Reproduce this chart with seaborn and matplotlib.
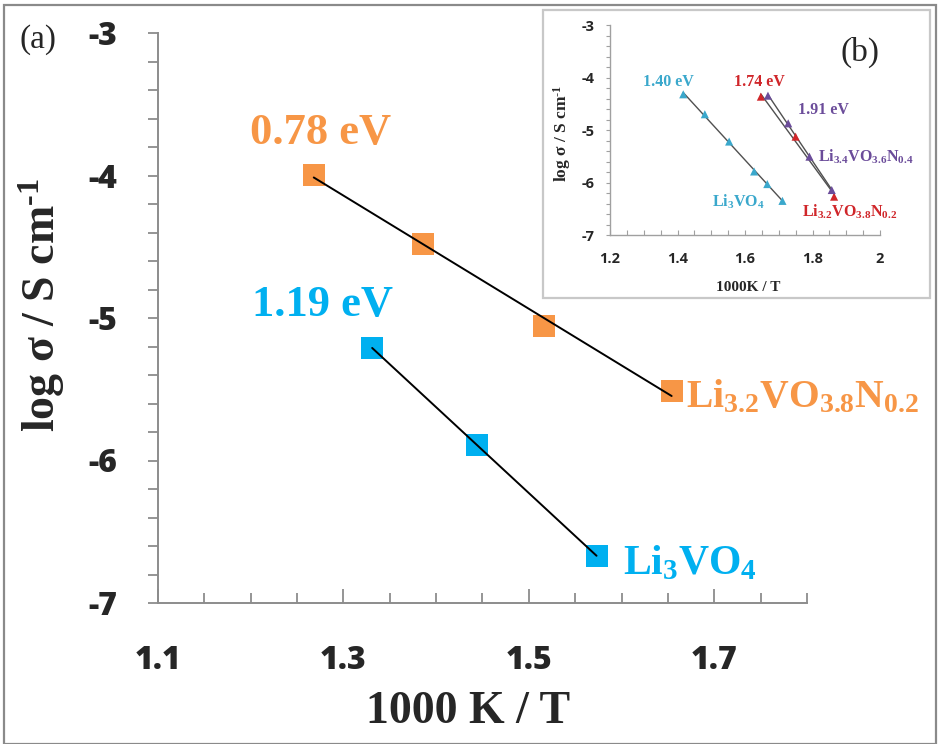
import matplotlib
matplotlib.use("Agg")
import matplotlib.pyplot as plt
import seaborn as sns
from matplotlib.ticker import MultipleLocator, FixedLocator
from matplotlib.patches import Rectangle

# ---------------- data (main panel a) ----------------
a_n02_x = [1.268, 1.386, 1.516, 1.654]
a_n02_y = [-3.994, -4.483, -5.054, -5.512]
a_lvo_x = [1.331, 1.444, 1.573]
a_lvo_y = [-5.212, -5.888, -6.670]
a_labels = ["0.78 eV", "1.19 eV"]
a_names = [r"Li$_{3.2}$VO$_{3.8}$N$_{0.2}$", r"Li$_{3}$VO$_{4}$"]
a_xticks = [1.1, 1.3, 1.5, 1.7]
a_yticks = [-7, -6, -5, -4, -3]

# ---------------- data (inset b) ----------------
b_lvo_x = [1.417, 1.481, 1.553, 1.627, 1.666, 1.711]
b_lvo_y = [-4.32, -4.70, -5.22, -5.79, -6.03, -6.35]
b_n02_x = [1.647, 1.750, 1.864]
b_n02_y = [-4.365, -5.127, -6.27]
b_n04_x = [1.668, 1.728, 1.791, 1.857]
b_n04_y = [-4.346, -4.873, -5.508, -6.143]
b_labels = ["1.40 eV", "1.74 eV", "1.91 eV"]
b_names = [r"Li$_{3}$VO$_{4}$", r"Li$_{3.2}$VO$_{3.8}$N$_{0.2}$", r"Li$_{3.4}$VO$_{3.6}$N$_{0.4}$"]
b_xticks = [1.2, 1.4, 1.6, 1.8, 2.0]
b_xticklabels = ["1.2", "1.4", "1.6", "1.8", "2"]
b_yticks = [-7, -6, -5, -4, -3]

ORANGE = "#F79646"
BLUE = "#00B0F0"
CYAN = "#3AA8CC"
RED = "#D0262A"
PURPLE = "#6B4C9A"
SPINE = "#8C8C8C"
SERIF = ["Liberation Serif", "DejaVu Serif"]
SANS = ["Open Sans", "DejaVu Sans"]
YLABEL = r"log σ / S cm$^{\text{-}1}$"

sns.set_theme(style="white")
plt.rcParams.update({
    "font.family": SANS,
    "font.weight": "bold",
    "mathtext.fontset": "custom",
    "mathtext.rm": "Liberation Serif:bold",
    "mathtext.it": "Liberation Serif:bold",
    "mathtext.bf": "Liberation Serif:bold",
    "axes.unicode_minus": False,
})

fig = plt.figure(figsize=(9.4, 7.44), dpi=100)
fig.patch.set_facecolor("white")
# outer frame
fig.add_artist(Rectangle((4 / 940, 0.0), 932 / 940, 1 - 5 / 744, transform=fig.transFigure,
                         fill=False, edgecolor="#8A8A8A", lw=1.6))

# ================= main axes =================
ax = fig.add_axes([158 / 940, 1 - 603 / 744, 649 / 940, 570 / 744])
ax.set_facecolor("white")
sns.scatterplot(x=a_n02_x, y=a_n02_y, ax=ax, marker="s", s=250, color=ORANGE,
                edgecolor="none", linewidth=0, zorder=3)
sns.scatterplot(x=a_lvo_x, y=a_lvo_y, ax=ax, marker="s", s=250, color=BLUE,
                edgecolor="none", linewidth=0, zorder=3)
sns.regplot(x=a_n02_x, y=a_n02_y, ax=ax, scatter=False, ci=None, truncate=True,
            color="black", line_kws={"lw": 1.4, "zorder": 5})
sns.regplot(x=a_lvo_x, y=a_lvo_y, ax=ax, scatter=False, ci=None, truncate=True,
            color="black", line_kws={"lw": 1.4, "zorder": 5})

ax.set_xlim(1.1, 1.8)
ax.set_ylim(-7, -3)
for s in ["top", "right"]:
    ax.spines[s].set_visible(False)
for s in ["left", "bottom"]:
    ax.spines[s].set_color(SPINE)
    ax.spines[s].set_linewidth(1.4)

ax.xaxis.set_major_locator(FixedLocator(a_xticks))
ax.xaxis.set_minor_locator(MultipleLocator(0.05))
ax.yaxis.set_major_locator(FixedLocator(a_yticks))
ax.yaxis.set_minor_locator(MultipleLocator(0.2))
ax.set_xticklabels([f"{v:.1f}" for v in a_xticks])
ax.set_yticklabels([str(v) for v in a_yticks])
ax.tick_params(axis="x", which="major", direction="in", length=10, width=1.3, color=SPINE,
               pad=30, labelsize=23, bottom=True)
ax.tick_params(axis="x", which="minor", direction="in", length=7, width=1.3, color=SPINE, bottom=True)
ax.tick_params(axis="y", which="both", direction="out", length=7.5, width=1.3, color=SPINE, left=True)
ax.tick_params(axis="y", which="major", pad=22, labelsize=23)
for t in ax.get_xticklabels() + ax.get_yticklabels():
    t.set_fontweight("heavy")
    t.set_family(SANS)

ax.set_xlabel("1000 K / T", fontsize=33, fontweight="bold", family=SERIF)
ax.xaxis.set_label_coords((468 - 158) / 649, (603 - 712) / 570)
ax.xaxis.label.set_va("center")
ax.set_ylabel(YLABEL, fontsize=33, fontweight="bold", family=SERIF)
ax.yaxis.set_label_coords((42 - 158) / 649, (603 - 305) / 570)
ax.yaxis.label.set_va("center")

ax.text(1.275, -3.70, a_labels[0], color=ORANGE, fontsize=32, fontweight="bold",
        family=SERIF, ha="center", va="center")
ax.text(1.277, -4.91, a_labels[1], color=BLUE, fontsize=32, fontweight="bold",
        family=SERIF, ha="center", va="center")
ax.text(1.670, -5.63, a_names[0], color=ORANGE, fontsize=28.5, fontweight="bold",
        family=SERIF, ha="left", va="baseline")
ax.text(1.602, -6.80, a_names[1], color=BLUE, fontsize=30, fontweight="bold",
        family=SERIF, ha="left", va="baseline")

fig.text(38 / 940, 1 - 40 / 744, "(a)", fontsize=24, fontweight="normal", family=SERIF,
         ha="center", va="center")

# ================= inset (b) =================
fig.add_artist(Rectangle((543 / 940, 1 - 298 / 744), 387 / 940, 288 / 744, transform=fig.transFigure,
                         facecolor="white", edgecolor="#C8C8C8", lw=1.6, zorder=2))
ax2 = fig.add_axes([610 / 940, 1 - 235 / 744, 270 / 940, 210 / 744], zorder=3)
ax2.set_facecolor("none")
for xs, ys, c in [(b_lvo_x, b_lvo_y, CYAN), (b_n02_x, b_n02_y, RED), (b_n04_x, b_n04_y, PURPLE)]:
    sns.regplot(x=xs, y=ys, ax=ax2, scatter=False, ci=None, truncate=True,
                color="#505050", line_kws={"lw": 1.0, "zorder": 2})
    sns.scatterplot(x=xs, y=ys, ax=ax2, marker="^", s=34, color=c, edgecolor="none",
                    linewidth=0, zorder=3)
ax2.set_xlim(1.2, 2.0)
ax2.set_ylim(-7, -3)
for s in ["top", "right"]:
    ax2.spines[s].set_visible(False)
for s in ["left", "bottom"]:
    ax2.spines[s].set_color("#A0A0A0")
    ax2.spines[s].set_linewidth(1.0)
ax2.xaxis.set_major_locator(FixedLocator(b_xticks))
ax2.xaxis.set_minor_locator(MultipleLocator(0.05))
ax2.yaxis.set_major_locator(FixedLocator(b_yticks))
ax2.yaxis.set_minor_locator(MultipleLocator(0.2))
ax2.set_xticklabels(b_xticklabels)
ax2.set_yticklabels([str(v) for v in b_yticks])
ax2.tick_params(axis="x", which="both", direction="in", length=3.5, width=0.8, color="#A0A0A0",
                bottom=True)
ax2.tick_params(axis="x", which="major", pad=12, labelsize=10.5)
ax2.tick_params(axis="y", which="both", direction="out", length=3, width=0.8, color="#A0A0A0",
                left=True)
ax2.tick_params(axis="y", which="major", pad=8, labelsize=10.5)
for t in ax2.get_xticklabels() + ax2.get_yticklabels():
    t.set_fontweight("bold")
    t.set_family(SANS)
ax2.set_xlabel("1000K / T", fontsize=11, fontweight="bold", family=SERIF)
ax2.xaxis.set_label_coords((748 - 610) / 270, (235 - 287) / 210)
ax2.xaxis.label.set_va("center")
ax2.set_ylabel(YLABEL, fontsize=12.5, fontweight="bold", family=SERIF)
ax2.yaxis.set_label_coords((562 - 610) / 270, (235 - 133) / 210)
ax2.yaxis.label.set_va("center")

ax2.text(1.372, -4.086, b_labels[0], color=CYAN, fontsize=11.5, fontweight="bold",
         family=SERIF, ha="center", va="center")
ax2.text(1.644, -4.086, b_labels[1], color=RED, fontsize=11.5, fontweight="bold",
         family=SERIF, ha="center", va="center")
ax2.text(1.831, -4.62, b_labels[2], color=PURPLE, fontsize=11.5, fontweight="bold",
         family=SERIF, ha="center", va="center")
ax2.text(1.502, -6.37, b_names[0], color=CYAN, fontsize=11.5, fontweight="bold",
         family=SERIF, ha="left", va="center")
ax2.text(1.769, -6.56, b_names[1], color=RED, fontsize=11.5, fontweight="bold",
         family=SERIF, ha="left", va="center")
ax2.text(1.816, -5.51, b_names[2], color=PURPLE, fontsize=11.5, fontweight="bold",
         family=SERIF, ha="left", va="center")
fig.text(860 / 940, 1 - 52 / 744, "(b)", fontsize=24, fontweight="normal", family=SERIF,
         ha="center", va="center", zorder=5)

fig.savefig("out.png", dpi=100, facecolor="white")
